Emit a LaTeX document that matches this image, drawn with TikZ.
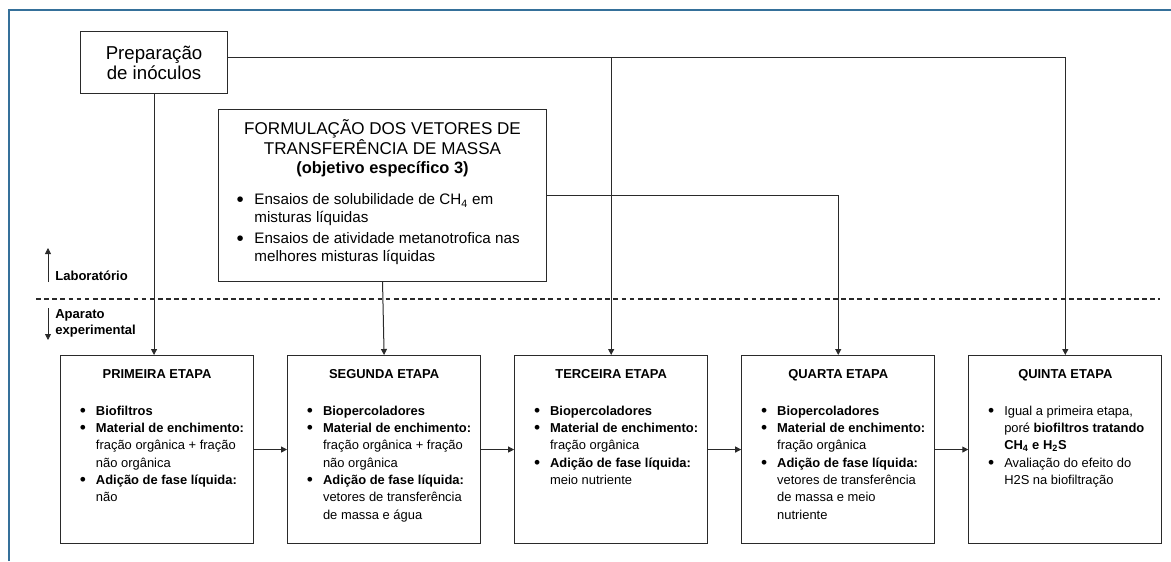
\documentclass[tikz,border=0pt]{standalone}
\usepackage{fontspec}
\setmainfont{Liberation Sans}
\usepackage{array}
\usepackage{graphicx}
\usetikzlibrary{positioning,arrows.meta}
\definecolor{cFrame}{HTML}{35709A}
\definecolor{cLine}{HTML}{2A2A2A}
\newcommand{\bul}{\raisebox{-0.1em}{\scalebox{1.35}{\textbullet}}}
\newcommand{\etapa}[2]{\parbox[t][141pt][t]{144.75pt}{%
    \fontsize{9.7}{13}\selectfont
    {\centering\bfseries\rule{0pt}{17pt}#1\par}\vspace{14.75pt}%
    \hspace*{14.5pt}\begin{tabular}[t]{@{}l@{\hspace{7.5pt}}l@{}}#2\end{tabular}}}

\begin{document}
\begin{tikzpicture}[x=0.75pt,y=-0.75pt,
    stagebox/.style={draw=cLine,line width=0.8pt,inner sep=0pt,anchor=north west},
    link/.style={draw=cLine,line width=0.75pt,-{Triangle[length=4.5pt,width=4.5pt]}},
    side/.style={font=\fontsize{9.8}{12}\selectfont\bfseries,align=left,anchor=west,inner sep=0pt}]
  \useasboundingbox (0,0) rectangle (1171,561);
  \draw[cFrame,line width=1.4pt] (9,561) -- (9,10) -- (1171,10);

  \node[stagebox,minimum width=110.25pt,minimum height=46.5pt,align=center,
        font=\fontsize{14}{15}\selectfont] (prep) at (80,31) {Preparação\\de inóculos};

  \node[stagebox] (form) at (218,109) {\parbox[t][129pt][t]{246pt}{%
      {\centering\fontsize{12.8}{14.6}\selectfont\rule{0pt}{18.75pt}FORMULAÇÃO DOS VETORES DE\\
        TRANSFERÊNCIA DE MASSA\\
        {\fontsize{12.3}{14.6}\selectfont\bfseries (objetivo específico 3)}\par}%
      \fontsize{11.4}{13.5}\selectfont\vspace{10.1pt}%
      \hspace*{13.5pt}\begin{tabular}[t]{@{}l@{\hspace{8pt}}l@{}}
        \bul & Ensaios de solubilidade de CH\textsubscript{4} em\\
             & misturas líquidas\\[2.25pt]
        \bul & Ensaios de atividade metanotrofica nas\\
             & melhores misturas líquidas
      \end{tabular}}};

  \node[side] (lab) at (55,276) {Laboratório};
  \node[side,anchor=north west] (apar) at (55,309) {Aparato\\experimental};
  \coordinate (labA) at (48,282);
  \coordinate (labB) at (48,248);
  \coordinate (aparA) at (48,308);
  \coordinate (aparB) at (48,340);
  \draw[link,line width=0.6pt] (labA) -- (labB);
  \draw[link,line width=0.6pt] (aparA) -- (aparB);
  \draw[cLine,line width=1.1pt,dash pattern=on 3.5pt off 2.6pt] (36,299) -- (1160,299);

  \node[stagebox] (primeira) at (60,355) {\etapa{PRIMEIRA ETAPA}{%
      \bul & \textbf{Biofiltros}\\
      \bul & \textbf{Material de enchimento:}\\
           & fração orgânica + fração\\
           & não orgânica\\
      \bul & \textbf{Adição de fase líquida:}\\
           & não}};
  \node[stagebox,right=24.75pt of primeira] (segunda) {\etapa{SEGUNDA ETAPA}{%
      \bul & \textbf{Biopercoladores}\\
      \bul & \textbf{Material de enchimento:}\\
           & fração orgânica + fração\\
           & não orgânica\\
      \bul & \textbf{Adição de fase líquida:}\\
           & vetores de transferência\\
           & de massa e água}};
  \node[stagebox,right=24.75pt of segunda] (terceira) {\etapa{TERCEIRA ETAPA}{%
      \bul & \textbf{Biopercoladores}\\
      \bul & \textbf{Material de enchimento:}\\
           & fração orgânica\\
      \bul & \textbf{Adição de fase líquida:}\\
           & meio nutriente}};
  \node[stagebox,right=24.75pt of terceira] (quarta) {\etapa{QUARTA ETAPA}{%
      \bul & \textbf{Biopercoladores}\\
      \bul & \textbf{Material de enchimento:}\\
           & fração orgânica\\
      \bul & \textbf{Adição de fase líquida:}\\
           & vetores de transferência\\
           & de massa e meio\\
           & nutriente}};
  \node[stagebox,right=24.75pt of quarta] (quinta) {\etapa{QUINTA ETAPA}{%
      \bul & Igual a primeira etapa,\\
           & poré \textbf{biofiltros tratando}\\
           & \textbf{CH\textsubscript{4} e H\textsubscript{2}S}\\
      \bul & Avaliação do efeito do\\
           & H2S na biofiltração}};

  \coordinate (bus) at ([yshift=3.75pt]prep.east);
  \draw[link] (prep.south) -- (prep.south |- primeira.north);
  \draw[link] (bus) -| (quinta.north);
  \draw[link] (bus -| terceira.north) -- (terceira.north);
  \draw[link] (form.east) -| (quarta.north);
  \draw[link] (form.south) -- (segunda.north);
  \foreach \a/\b in {primeira/segunda,segunda/terceira,terceira/quarta,quarta/quinta}
    \draw[link] (\a.east) -- (\b.west);
\end{tikzpicture}
\end{document}
